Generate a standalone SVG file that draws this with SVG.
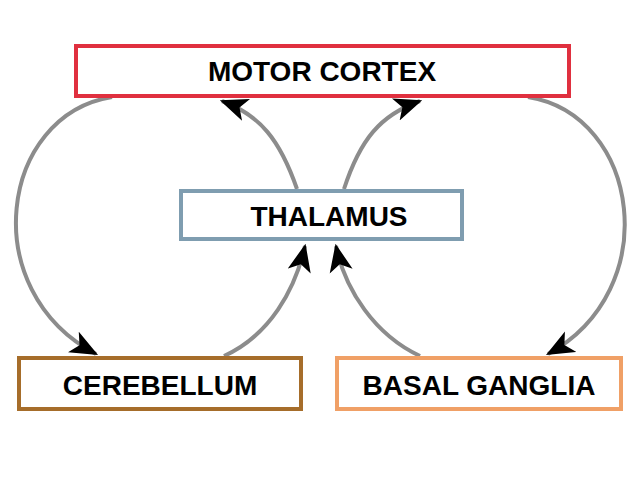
<svg xmlns="http://www.w3.org/2000/svg" width="640" height="480" viewBox="0 0 640 480">
<style>
.box{fill:#fff;stroke-width:4}
.lbl{font-family:"Liberation Sans",Arial,sans-serif;font-weight:bold;font-size:28px;fill:#000;text-anchor:middle}
.c{fill:none;stroke:#8c8c8c;stroke-width:4;marker-end:url(#ah)}
</style>
<defs>
<marker id="ah" viewBox="0 0 24 20" refX="22" refY="10" markerWidth="7" markerHeight="6" markerUnits="strokeWidth" orient="auto">
<path d="M0,0 L24,10 L0,20 L6,10 Z" fill="#000"/>
</marker>
</defs>
<rect width="640" height="480" fill="#fff"/>
<g id="connectors">
<path class="c" d="M112,97 C0,115 -25,290 96,354"/>
<path class="c" d="M528,97 C640,115 665,290 548,354"/>
<path class="c" d="M297,189 C280,140 260,115 222,101"/>
<path class="c" d="M344,189 C360,140 380,115 420,101"/>
<path class="c" d="M224,356 C270,335 295,290 305,246"/>
<path class="c" d="M420,356 C375,335 345,290 336,246"/>
</g>
<g id="motor"><rect class="box" x="76" y="46" width="493" height="50" stroke="#e0303f"/><text class="lbl" x="322" y="81">MOTOR CORTEX</text></g>
<g id="thalamus"><rect class="box" x="181" y="191" width="281" height="48" stroke="#7f9db0"/><text class="lbl" x="329" y="226">THALAMUS</text></g>
<g id="cerebellum"><rect class="box" x="19" y="358" width="282" height="51" stroke="#a66d2a"/><text class="lbl" x="160" y="395">CEREBELLUM</text></g>
<g id="basal"><rect class="box" x="337" y="358" width="284" height="51" stroke="#f0a066"/><text class="lbl" x="479" y="395">BASAL GANGLIA</text></g>
</svg>
